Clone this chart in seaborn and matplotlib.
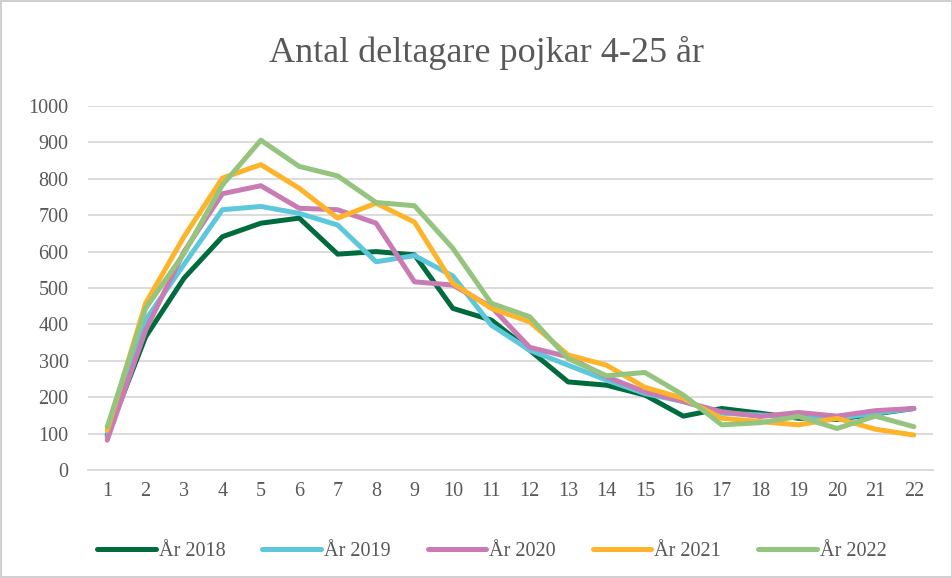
import numpy as np
import pandas as pd
import matplotlib
matplotlib.use('Agg')
import matplotlib.pyplot as plt
import seaborn as sns

# Ålder (kategori 1-22) och antal deltagare per år
ages = list(range(1, 23))
years = ['År 2018', 'År 2019', 'År 2020', 'År 2021', 'År 2022']
v2018 = [95, 366, 527, 641, 678, 692, 593, 600, 591, 444, 412, 329, 242, 233, 206,
         148, 169, 156, 142, 139, 154, 169]
v2019 = [90, 412, 565, 715, 724, 705, 673, 572, 589, 533, 398, 329, 288, 247, 210,
         188, 156, 151, 147, 142, 156, 169]
v2020 = [82, 384, 600, 759, 781, 719, 715, 678, 517, 508, 448, 337, 311, 256, 215,
         188, 160, 147, 158, 148, 163, 169]
v2021 = [109, 458, 641, 802, 839, 774, 692, 733, 681, 513, 444, 407, 316, 288, 227,
         197, 142, 133, 124, 142, 112, 96]
v2022 = [118, 444, 595, 783, 906, 834, 808, 735, 726, 609, 458, 421, 306, 259, 268,
         206, 124, 130, 147, 114, 148, 119]
colors = ['#006B3D', '#5DC8DC', '#C97CB3', '#FDB42B', '#95C47E']

df = pd.DataFrame({
    'age': ages * 5,
    'value': v2018 + v2019 + v2020 + v2021 + v2022,
    'year': np.repeat(years, len(ages)),
})

sns.set_style('white')
plt.rcParams['font.family'] = ['Liberation Serif', 'DejaVu Serif']

fig = plt.figure(figsize=(9.53, 5.78), dpi=100)
fig.patch.set_edgecolor('#D0D0D0')
fig.patch.set_linewidth(1.5)
ax = fig.add_axes([88 / 953, 1 - 470 / 578, (933 - 88) / 953, (470 - 106) / 578])

sns.lineplot(data=df, x='age', y='value', hue='year', palette=colors,
             linewidth=3.6, ax=ax, legend=True)

ax.set_xlim(0.5, 22.5)
ax.set_ylim(0, 1000)
ax.set_xticks(ages)
ax.set_yticks(range(0, 1001, 100))
ax.yaxis.grid(True, color='#D9D9D9', linewidth=1.3)
ax.set_axisbelow(True)
for s in ['top', 'right', 'left']:
    ax.spines[s].set_visible(False)
ax.spines['bottom'].set_color('#D9D9D9')
ax.spines['bottom'].set_linewidth(1.3)
ax.tick_params(axis='y', length=0, labelsize=14.5, labelcolor='#595959', pad=14)
ax.tick_params(axis='x', length=0, labelsize=14.5, labelcolor='#595959', pad=9)
ax.set_xlabel('')
ax.set_ylabel('')

fig.text(0.51, 0.908, 'Antal deltagare pojkar 4-25 år', ha='center', va='center',
         fontsize=26, color='#595959')

handles, labels = ax.get_legend_handles_labels()
ax.legend(handles, labels, loc='center', bbox_to_anchor=(0.478, -0.225), ncol=5,
          frameon=False, fontsize=14.5, labelcolor='#595959', handlelength=2.9,
          handletextpad=0.15, columnspacing=1.85)

fig.savefig('out.png', dpi=100)
